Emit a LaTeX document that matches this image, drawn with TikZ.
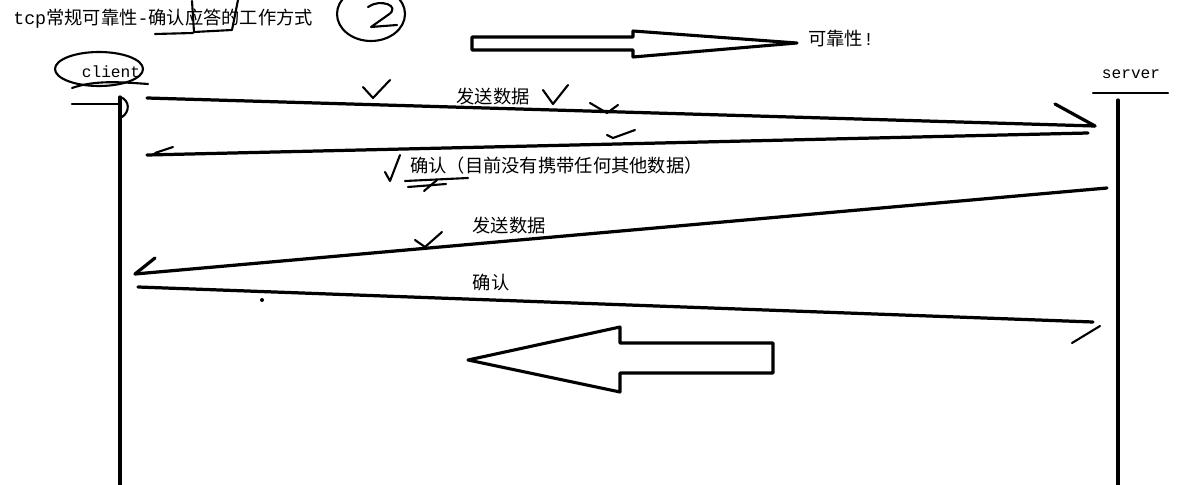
\documentclass[tikz,border=0pt]{standalone}
\usepackage{fontspec}
\newfontfamily\cjk{Noto Sans CJK SC}
\newfontfamily\mono{Liberation Mono}
\tikzset{
  pen/.style={line width=2.3pt, line cap=round, line join=round},
  thinpen/.style={line width=1.5pt, line cap=round, line join=round},
  fatarrow/.style={line width=2.2pt, line join=round, fill=white},
  lbl/.style={inner sep=0pt, font=\cjk\fontsize{13}{15}\selectfont},
  who/.style={inner sep=0pt, font=\mono\fontsize{11.5}{13}\selectfont},
}

\begin{document}
\begin{tikzpicture}[x=0.025cm, y=-0.025cm]
\useasboundingbox (0,0) rectangle (1184,485);
\node[lbl, anchor=west] (title) at (13,19) {{\mono tcp}常规可靠性{\mono -}确认应答的工作方式};
\draw[thinpen] (155,34) -- (193,33);
\draw[thinpen] (192,1) -- (194,32) -- (232,30) -- (238,0);
\draw[thinpen] (371,14) ellipse [x radius=34, y radius=27];
\draw[thinpen] (368,7) .. controls (380,-2) and (402,6) .. (388,15) -- (371,27) -- (397,25);

\draw[fatarrow] (472,37) -- (633,37) -- (633,31) -- (797,43) -- (633,57) -- (633,50) -- (472,50) -- cycle;
\node[lbl, anchor=west] (rel) at (808,39) {可靠性{\mono !}};

\node[who] (client) at (111,72) {client};
\node[who] (server) at (1131,74) {server};
\draw[thinpen] (99,69) ellipse [x radius=44, y radius=17];
\draw[thinpen] (72,88) .. controls (95,80) and (120,82) .. (148,84);
\draw[thinpen] (1093,93) -- (1168,93);

\coordinate (ctop) at (120,97);
\coordinate (cbot) at (120,485);
\coordinate (stop) at (1118,100);
\coordinate (sbot) at (1118,485);
\draw[pen] (ctop) -- (cbot);
\draw[pen] (stop) -- (sbot);
\draw[thinpen] (72,104) -- (ctop |- 0,104);
\draw[thinpen] (ctop) .. controls (130,100) and (130,112) .. (122,117);

\coordinate (m1a) at (147,98);
\coordinate (m1b) at (1095,126);
\coordinate (m2a) at (1088,133);
\coordinate (m2b) at (147,155);
\coordinate (m3a) at (1107,188);
\coordinate (m3b) at (135,274);
\coordinate (m4a) at (138,287);
\coordinate (m4b) at (1093,322);

\draw[pen] (m1a) -- (m1b);
\draw[pen] (m1b) -- ++(-40,-22);
\node[lbl] (send1) at (493,97) {发送数据};

\draw[pen] (m2a) -- (m2b);
\draw[thinpen] (m2b) ++(8,-2) -- ++(18,-6);
\node[lbl, anchor=west] (ack1) at (410,166) {确认（目前没有携带任何其他数据）};

\draw[pen] (m3a) -- (m3b);
\draw[pen] (m3b) -- ++(20,-16);
\node[lbl] (send2) at (509,226) {发送数据};

\draw[pen] (m4a) -- (m4b);
\draw[thinpen] (m4b) ++(-21,21) -- ++(28,-17);
\node[lbl] (ack2) at (491,283) {确认};

\draw[thinpen] (363,87) -- (373,98) -- (390,80);
\draw[thinpen] (543,90) -- (553,104) -- (568,85);
\draw[thinpen] (590,103) -- (607,113) -- (618,105);
\draw[thinpen] (607,135) -- (613,138) -- (635,130);
\draw[thinpen] (385,172) -- (390,181) -- (400,155);
\draw[thinpen] (405,181) -- (468,178);
\draw[thinpen] (408,187) -- (446,184);
\draw[thinpen] (424,191) -- (437,180);
\draw[thinpen] (415,240) -- (425,247) -- (442,232);
\fill (262,300) circle (2);

\draw[fatarrow] (468,360) -- (620,327) -- (620,343) -- (773,343) -- (773,373) -- (620,373) -- (620,392) -- cycle;
\end{tikzpicture}
\end{document}
